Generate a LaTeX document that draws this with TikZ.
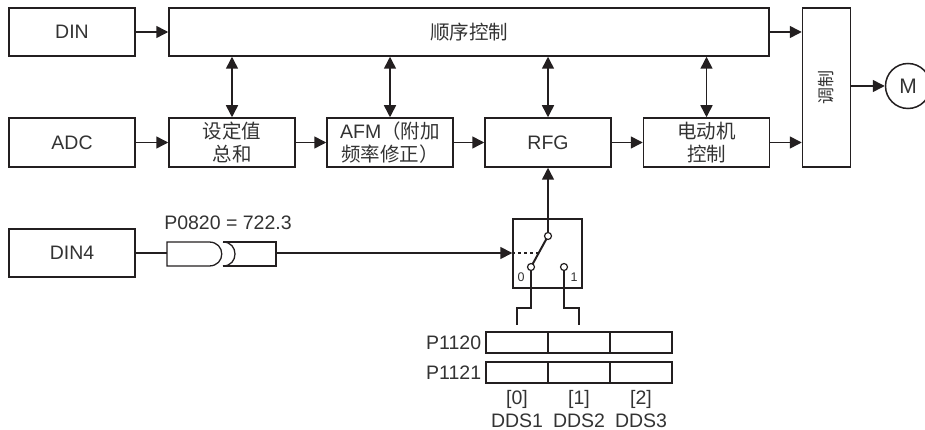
\documentclass[tikz,border=0pt]{standalone}
\usepackage{fontspec}
\setmainfont{Liberation Sans}
\newfontfamily\cjk{Noto Sans CJK SC}
\usetikzlibrary{arrows.meta,positioning}
\definecolor{ln}{HTML}{231F20}
\definecolor{tx}{HTML}{333333}

\tikzset{
  blk/.style={draw=ln, line width=1.5pt, rectangle, minimum width=126pt, minimum height=48pt,
    inner sep=0pt, align=center, text=tx, font=\fontsize{19.5}{23}\selectfont},
  con/.style={draw=ln, line width=1.5pt},
  arr/.style={con, -{Triangle[length=12pt,width=12pt]}},
  darr/.style={con, {Triangle[length=12pt,width=12pt]}-{Triangle[length=12pt,width=12pt]}},
  cell/.style={draw=ln, line width=1.4pt, minimum width=62pt, minimum height=21pt, inner sep=0pt},
  lbl/.style={text=tx, inner sep=0pt, font=\fontsize{19.5}{22}\selectfont},
  pin/.style={draw=ln, line width=1.2pt, fill=white, circle, minimum size=7pt, inner sep=0pt},
}

\begin{document}
\begin{tikzpicture}[x=1pt,y=-1pt]
    \useasboundingbox (0,0) rectangle (925,430);
    % top row
    \node[blk] (din) at (72,32) {DIN};
    \node[blk, minimum width=600pt] (seq) at (469,32) {\cjk 顺序控制};
    % main row
    \node[blk, minimum height=49pt] (adc) at (72,142.5) {ADC};
    \node[blk, minimum height=49pt] (sum) at (232,142.5) {\cjk 设定值\\\cjk 总和};
    \node[blk, minimum height=49pt] (afm) at (390,142.5) {AFM{\cjk（附加}\\\cjk 频率修正）};
    \node[blk, minimum height=49pt] (rfg) at (548,142.5) {RFG};
    \node[blk, minimum height=49pt] (mot) at (706.5,142.5) {\cjk 电动机\\\cjk 控制};
    \node[blk, minimum width=48pt, minimum height=159pt] (mod) at (826.5,87.5) {};
    \node[text=tx, rotate=90, font=\fontsize{17}{20}\selectfont\cjk] (modt) at (mod.center) {调制};
    \node[draw=ln, line width=1.5pt, circle, minimum size=45pt, inner sep=0pt, text=tx,
      font=\fontsize{21}{24}\selectfont] (m) at (908,86) {M};

    \draw[arr] (din) -- (seq);
    \draw[arr] (adc) -- (sum);
    \draw[arr] (sum) -- (afm);
    \draw[arr] (afm) -- (rfg);
    \draw[arr] (rfg) -- (mot);
    \draw[arr] (seq.east) -- (seq.east -| mod.west);
    \draw[arr] (mot.east) -- (mot.east -| mod.west);
    \draw[arr] (mod.east |- m.west) -- (m.west);
    \foreach \b in {sum,afm,rfg,mot}
      \draw[darr] (seq.south -| \b.north) -- (\b.north);

    % DIN4 and fuse
    \node[blk] (din4) at (72,253) {DIN4};
    \coordinate (fusL) at (167,253);
    \coordinate (fusR) at (276,253);
    \draw[con, line width=1.3pt] (167,242) -- (209,242) .. controls (226,242) and (226,266) .. (209,266) -- (167,266) -- cycle;
    \draw[con, line width=1.3pt] (223,242) .. controls (239,242) and (239,266) .. (223,266);
    \draw[con, line width=1.3pt] (223,242) -- (276,242) -- (276,266) -- (223,266);
    \node[lbl] (par) at (228,223) {P0820 = 722.3};
    \draw[con] (din4) -- (fusL);

    % switch
    \node[draw=ln, line width=1.4pt, minimum size=69pt, inner sep=0pt] (sw) at (547.5,253.5) {};
    \draw[con, line width=2pt] (548,236) -- (531,267);
    \node[pin] (pt) at (548,236) {};
    \node[pin] (p0) at (531,267) {};
    \node[pin] (p1) at (564,267) {};
    \draw[con] (sw.north -| pt) -- (pt);
    \draw[con, dashed, line width=1.2pt] (sw.west |- fusR) -- (539,253);
    \node[text=tx, font=\fontsize{12.5}{14}\selectfont] (n0) at (521,277) {0};
    \node[text=tx, font=\fontsize{12.5}{14}\selectfont] (n1) at (574,277) {1};
    \draw[arr] (fusR) -- (sw.west |- fusR);
    \draw[arr] (sw.north -| rfg) -- (rfg.south);

    % parameter table
    \foreach \c/\x in {1/517,2/579,3/641} {
      \node[cell] (a\c) at (\x,342.5) {};
      \node[cell] (b\c) at (\x,372.5) {};
    }
    \node[lbl, anchor=east] (p1120) at ([xshift=-4pt]a1.west) {P1120};
    \node[lbl, anchor=east] (p1121) at ([xshift=-4pt]b1.west) {P1121};
    \foreach \c/\i in {1/0,2/1,3/2} {
      \node[lbl] (idx\c) at ([yshift=-16pt]b\c.south) {[\i]};
      \node[lbl] (dds\c) at ([yshift=-37pt]b\c.south) {DDS\c};
    }
    \draw[con] (p0) -- (531,308) -- (517,308) -- ([yshift=6pt]a1.north);
    \draw[con] (p1) -- (564,308) -- (579,308) -- ([yshift=6pt]a2.north);
\end{tikzpicture}
\end{document}
